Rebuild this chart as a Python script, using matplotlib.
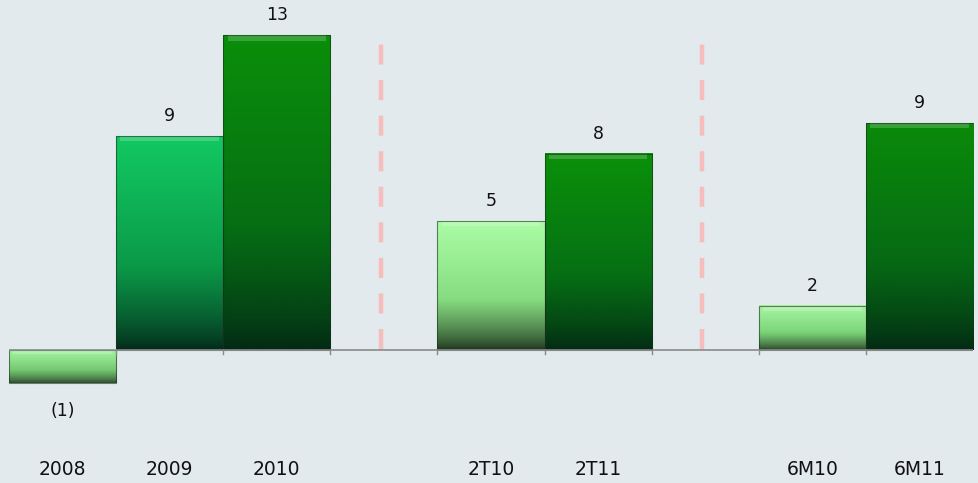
import numpy as np
import matplotlib
matplotlib.use("Agg")
import matplotlib.pyplot as plt
from matplotlib.colors import LinearSegmentedColormap
from matplotlib.transforms import blended_transform_factory

categories = ["2008", "2009", "2010", "", "2T10", "2T11", "", "6M10", "6M11"]
values = [-1.35, 8.84, 13.0, np.nan, 5.33, 8.1, np.nan, 1.82, 9.38]
value_labels = ["(1)", "9", "13", "", "5", "8", "", "2", "9"]
separator_positions = [3, 6]

# gradient (top, mid, bottom) per bar
gradients = [
    ("#a4f4a0", "#74c870", "#2c452c"),
    ("#12c862", "#0b9a48", "#03281a"),
    ("#0a8e0a", "#066e14", "#032814"),
    None,
    ("#aafca4", "#86dc80", "#1e321e"),
    ("#0a900a", "#067014", "#032814"),
    None,
    ("#a6f6a2", "#7cd478", "#283e28"),
    ("#0a8a0a", "#066a14", "#032814"),
]

fig = plt.figure(figsize=(9.79, 4.83), dpi=100)
fig.patch.set_facecolor("#e2eaee")
ax = fig.add_axes([9 / 979, 0, 964 / 979, 1])
ax.set_facecolor("none")

x = np.arange(len(categories))
vals = np.nan_to_num(np.array(values, dtype=float))
bars = ax.bar(x, vals, width=1.0, color="none", edgecolor="none", zorder=2)

for i, (b, g) in enumerate(zip(bars, gradients)):
    if g is None:
        continue
    x0, y0 = b.get_x(), b.get_y()
    w, h = b.get_width(), b.get_height()
    ylo, yhi = min(y0, y0 + h), max(y0, y0 + h)
    cmap = LinearSegmentedColormap.from_list("g%d" % i, [(0, g[2]), (0.5, g[1]), (1, g[0])])
    grad = np.linspace(0, 1, 256).reshape(-1, 1) ** 0.75
    ax.imshow(grad, extent=(x0, x0 + w, ylo, yhi), origin="lower", cmap=cmap,
              aspect="auto", zorder=2, interpolation="bicubic")
    # subtle bevel highlight at top
    hh = min(0.22, (yhi - ylo) * 0.12)
    ax.fill_between([x0 + 0.04, x0 + w - 0.04], yhi - hh, yhi, color="white", alpha=0.2,
                    lw=0, zorder=3)
    ax.add_patch(plt.Rectangle((x0, ylo), w, yhi - ylo, fill=False, edgecolor="#1c301c",
                               lw=0.8, alpha=0.6, zorder=3))
    # value label
    if vals[i] >= 0:
        ax.annotate(value_labels[i], (x[i], yhi), xytext=(0, 8), textcoords="offset points",
                    ha="center", va="bottom", fontsize=12.5, color="#111111", zorder=5)
    else:
        ax.annotate(value_labels[i], (x[i], ylo), xytext=(0, -14), textcoords="offset points",
                    ha="center", va="top", fontsize=12.5, color="#111111", zorder=5)

ax.set_xlim(-0.5, len(categories) - 0.5)
ax.set_ylim(-5.5, 14.46)

# baseline axis
ax.axhline(0, color="#8a8a8a", lw=1.2, zorder=4)
for bnd in np.arange(0.5, len(categories) - 0.5, 1.0):
    ax.plot([bnd, bnd], [0, -0.17], color="#8a8a8a", lw=1.0, zorder=4)

# separators
for sp in separator_positions:
    ax.plot([sp - 0.03, sp - 0.03], [0.05, 12.8], color="#f7bcbc", lw=3.2,
            linestyle=(0, (4.5, 3.5)), zorder=1)

trans = blended_transform_factory(ax.transData, ax.transAxes)
for xi, c in zip(x, categories):
    if c:
        ax.text(xi, 0.027, c, transform=trans, ha="center", va="center",
                fontsize=13.5, color="#111111")

for s in ax.spines.values():
    s.set_visible(False)
ax.set_xticks([])
ax.set_yticks([])

fig.savefig("out.png", dpi=100, facecolor=fig.get_facecolor())
